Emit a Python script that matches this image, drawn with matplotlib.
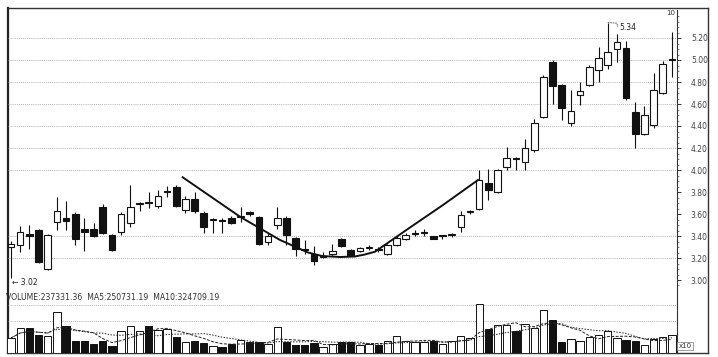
import matplotlib
matplotlib.use("Agg")
import matplotlib.pyplot as plt
import numpy as np
import pandas as pd
from matplotlib.lines import Line2D

# ---------------------------------------------------------------------------- #
# data (one row per trading day)

opens = [3.30, 3.32, 3.42, 3.45, 3.10, 3.53, 3.56, 3.60, 3.46, 3.46,
         3.66, 3.41, 3.44, 3.52, 3.69, 3.71, 3.67, 3.80, 3.85, 3.64,
         3.74, 3.61, 3.55, 3.55, 3.56, 3.57, 3.62, 3.57, 3.35, 3.50,
         3.56, 3.38, 3.28, 3.24, 3.21, 3.24, 3.37, 3.27, 3.26, 3.29,
         3.28, 3.24, 3.32, 3.37, 3.42, 3.43, 3.40, 3.40, 3.41, 3.48,
         3.62, 3.65, 3.88, 3.80, 4.03, 4.11, 4.07, 4.18, 4.48, 4.98,
         4.77, 4.43, 4.68, 4.77, 4.91, 4.95, 5.10, 5.11, 4.53, 4.33,
         4.41, 4.70, 5.00]
highs = [3.35, 3.49, 3.50, 3.46, 3.42, 3.75, 3.72, 3.62, 3.56, 3.52,
         3.69, 3.42, 3.62, 3.86, 3.71, 3.80, 3.82, 3.85, 3.86, 3.76,
         3.80, 3.63, 3.56, 3.56, 3.58, 3.66, 3.63, 3.58, 3.43, 3.66,
         3.58, 3.39, 3.36, 3.31, 3.25, 3.33, 3.38, 3.28, 3.30, 3.32,
         3.30, 3.33, 3.40, 3.43, 3.45, 3.46, 3.40, 3.41, 3.43, 3.63,
         3.64, 4.00, 4.01, 4.01, 4.21, 4.12, 4.28, 4.46, 4.86, 5.00,
         4.78, 4.73, 4.80, 4.95, 5.12, 5.34, 5.24, 5.17, 4.62, 4.58,
         4.88, 4.99, 5.25]
lows = [3.02, 3.25, 3.28, 3.15, 3.09, 3.45, 3.45, 3.32, 3.26, 3.39,
        3.42, 3.26, 3.41, 3.48, 3.63, 3.65, 3.65, 3.75, 3.66, 3.61,
        3.61, 3.43, 3.43, 3.43, 3.51, 3.53, 3.58, 3.32, 3.32, 3.46,
        3.32, 3.22, 3.24, 3.14, 3.20, 3.22, 3.30, 3.22, 3.25, 3.27,
        3.25, 3.23, 3.31, 3.36, 3.40, 3.40, 3.37, 3.37, 3.39, 3.44,
        3.60, 3.64, 3.73, 3.79, 4.00, 4.00, 4.00, 4.16, 4.47, 4.60,
        4.45, 4.40, 4.59, 4.76, 4.80, 4.92, 4.98, 4.64, 4.20, 4.32,
        4.38, 4.69, 4.85]
closes = [3.33, 3.44, 3.40, 3.16, 3.41, 3.63, 3.54, 3.37, 3.44, 3.40,
          3.43, 3.27, 3.60, 3.66, 3.70, 3.70, 3.76, 3.81, 3.67, 3.74,
          3.63, 3.48, 3.55, 3.54, 3.52, 3.58, 3.60, 3.33, 3.40, 3.56,
          3.41, 3.28, 3.27, 3.17, 3.22, 3.26, 3.31, 3.23, 3.29, 3.30,
          3.27, 3.32, 3.38, 3.41, 3.43, 3.43, 3.37, 3.40, 3.41, 3.59,
          3.63, 3.91, 3.82, 4.00, 4.11, 4.10, 4.20, 4.43, 4.85, 4.76,
          4.56, 4.54, 4.72, 4.94, 5.02, 5.07, 5.16, 4.65, 4.33, 4.50,
          4.73, 4.96, 5.00]
volume = [15, 25, 25, 18, 17, 41, 27, 12, 12, 9,
          12, 7, 22, 27, 22, 27, 23, 24, 16, 11,
          12, 10, 7, 6, 9, 13, 11, 11, 9, 26,
          11, 8, 8, 10, 6, 9, 11, 11, 8, 9,
          8, 12, 17, 12, 11, 11, 12, 9, 12, 17,
          15, 49, 24, 28, 28, 22, 29, 25, 43, 33,
          11, 14, 12, 16, 18, 22, 15, 13, 12, 8,
          14, 16, 18]

# hand drawn "rounding bottom" line (day index, price)
curve_day = [18.7, 24.95, 29.3, 30.94, 32.35, 33.88, 35.84, 37.47, 38.56,
             39.65, 43.46, 47.06, 50.87]
curve_price = [3.934, 3.575, 3.364, 3.303, 3.250, 3.218, 3.209, 3.214,
               3.232, 3.257, 3.477, 3.682, 3.909]

price_ticks = [3.00, 3.20, 3.40, 3.60, 3.80, 4.00, 4.20, 4.40, 4.60, 4.80, 5.00, 5.20]
grid_levels = [3.20, 3.40, 4.00, 4.20, 4.40, 4.60, 4.80, 5.00, 5.20]

vol_text = "VOLUME:237331.36  MA5:250731.19  MA10:324709.19"

# ---------------------------------------------------------------------------- #

o = np.array(opens); h = np.array(highs); l = np.array(lows); c = np.array(closes)
v = np.array(volume, dtype=float)
x = np.arange(len(o))
up = c >= o

W, H = 718, 357
fig = plt.figure(figsize=(W / 100, H / 100), dpi=100)
fig.patch.set_facecolor("white")


def px_rect(x0, y0, x1, y1):
    return [x0 / W, 1 - y1 / H, (x1 - x0) / W, (y1 - y0) / H]


# outer frame
frame = fig.add_axes(px_rect(8, 8, 708, 353))
frame.set_xticks([]); frame.set_yticks([])
for s in frame.spines.values():
    s.set_color("#333"); s.set_linewidth(1.0)
frame.spines["left"].set_linewidth(1.6)
frame.spines["left"].set_color("#222")

xlim = ((8 - 11) / 9.18, (677 - 11) / 9.18)

# price panel
ax = fig.add_axes(px_rect(8, 10, 677, 290))
ax.patch.set_alpha(0)
for s in ax.spines.values():
    s.set_visible(False)
ax.set_xlim(*xlim)
ax.set_ylim(5 - 230 / 110, 5 + 50 / 110)

for g in grid_levels:
    ax.axhline(g, color="#999", lw=0.6, ls=(0, (1, 1.5)), zorder=1)

ax.vlines(x, l, h, color="#111", lw=0.8, zorder=2)
body_lo = np.minimum(o, c)
body_h = np.maximum(np.abs(c - o), 0.008)
ax.bar(x[up], body_h[up], bottom=body_lo[up], width=0.72, color="white",
       edgecolor="#111", lw=0.8, zorder=3)
ax.bar(x[~up], body_h[~up], bottom=body_lo[~up], width=0.72, color="#111",
       edgecolor="#111", lw=0.8, zorder=3)

ax.plot(curve_day, curve_price, color="#111", lw=1.4, zorder=4)

# high / low markers
hi = int(np.argmax(h)); lo = int(np.argmin(l))
ax.plot([hi, hi + 1.0, hi + 1.1], [h[hi], h[hi] - 0.005, h[hi] - 0.04],
        color="#444", lw=0.6, ls=(0, (2, 1)), zorder=4)
ax.text(hi + 1.3, h[hi] - 0.04, "%.2f" % h[hi], fontsize=5.5, color="#222",
        va="center", ha="left")
ax.text(lo + 0.1, l[lo] - 0.04, "\u2190 %.2f" % l[lo], fontsize=5.5, color="#222",
        va="center", ha="left")

ax.set_xticks([])
ax.yaxis.tick_right()
ax.set_yticks(price_ticks)
ax.set_yticklabels(["%.2f" % t for t in price_ticks])
ax.set_yticks(np.arange(2.95, 5.45, 0.05), minor=True)
ax.tick_params(axis="y", which="major", direction="out", length=3, width=0.7,
               pad=7, labelsize=5.5, color="#333", labelcolor="#444")
ax.tick_params(axis="y", which="minor", direction="out", length=1.5, width=0.5,
               color="#555")

# volume panel
axv = fig.add_axes(px_rect(8, 300, 677, 353))
axv.patch.set_alpha(0)
for s in axv.spines.values():
    s.set_visible(False)
axv.set_xlim(*xlim)
axv.set_ylim(0, 53)
axv.set_xticks([]); axv.set_yticks([])
for g in [32, 48]:
    axv.axhline(g, color="#999", lw=0.6, ls=(0, (1, 1.5)), zorder=1)
axv.bar(x[up], v[up], width=0.8, color="white", edgecolor="#111", lw=0.7, zorder=2)
axv.bar(x[~up], v[~up], width=0.8, color="#111", edgecolor="#111", lw=0.7, zorder=2)
vs = pd.Series(v)
axv.plot(x, vs.rolling(5, min_periods=1).mean(), color="#222", lw=0.7,
         ls=(0, (3, 1.5)), zorder=3)
axv.plot(x, vs.rolling(10, min_periods=1).mean(), color="#222", lw=0.7,
         ls=(0, (1.5, 1.5)), zorder=3)

# right price axis line
fig.add_artist(Line2D([677 / W, 677 / W], [1 - 10 / H, 1 - 353 / H], color="#333", lw=0.8))

fig.text(6 / W, 1 - 297 / H, vol_text, fontsize=5.6, color="#333", va="center", ha="left")
fig.text(671 / W, 1 - 13 / H, "10", fontsize=5, color="#333", va="center", ha="center")
fig.text(685 / W, 1 - 346 / H, "x10", fontsize=5, color="#333", va="center", ha="center",
         bbox=dict(boxstyle="square,pad=0.15", fc="white", ec="#777", lw=0.5))

fig.savefig("out.png", dpi=100)
